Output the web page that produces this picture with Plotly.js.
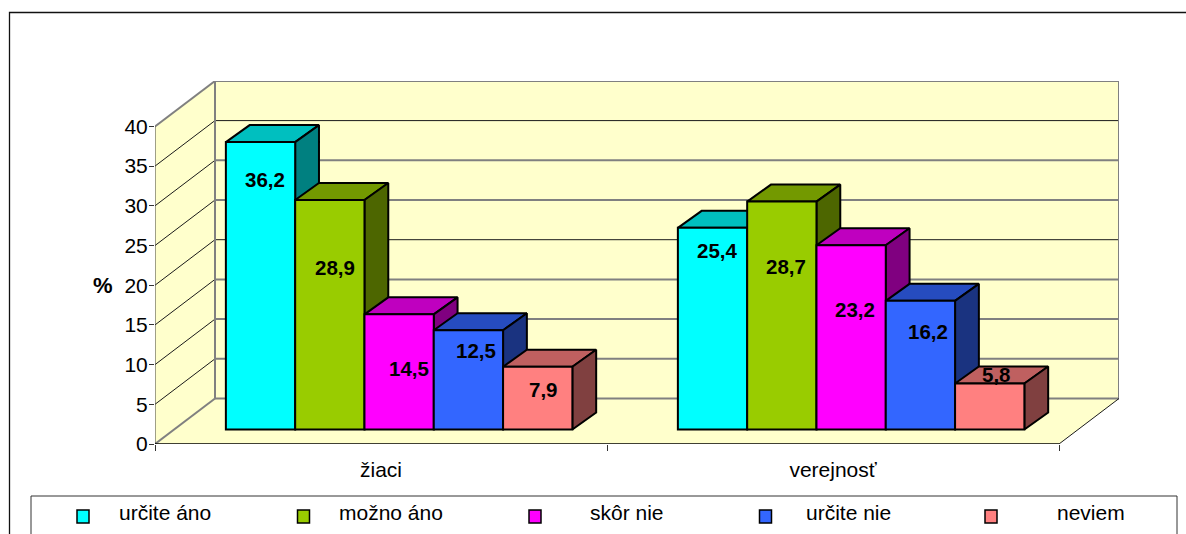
<!DOCTYPE html>
<html><head><meta charset="utf-8">
<script src="https://cdn.plot.ly/plotly-3.0.1.min.js"></script>
<style>html,body{margin:0;padding:0;background:#fff;overflow:hidden}#c{width:1186px;height:534px}</style>
</head><body><div id="c"></div>
<script>
// ---- data ----
const groups = ['žiaci', 'verejnosť'];
const seriesNames = ['určite áno', 'možno áno', 'skôr nie', 'určite nie', 'neviem'];
const urciteAno = [36.2, 25.4];
const moznoAno = [28.9, 28.7];
const skorNie = [14.5, 23.2];
const urciteNie = [12.5, 16.2];
const neviem = [7.9, 5.8];
const yTicks = [0, 5, 10, 15, 20, 25, 30, 35, 40];
// ---- styles ----
const frontColors = ['#00FFFF', '#99CC00', '#FF00FF', '#3366FF', '#FF8080'];
const topColors = ['#00BFBF', '#739900', '#BF00BF', '#264CBF', '#BF6060'];
const sideColors = ['#008080', '#4D6600', '#800080', '#1A3380', '#804040'];
const allValues = [urciteAno, moznoAno, skorNie, urciteNie, neviem];
// ---- layout in pixels ----
const L = 155, R = 1119, T = 81, B = 444;
const unitX = 452, unitY = 7.94;           // px per axis unit
const depthX = 60, depthY = 45.5;          // floor depth in px
const xMax = (R - L) / unitX, yMax = (B - T) / unitY;
const barW = 69.3 / unitX;
const d0 = 14.5 / depthY;                  // bar front depth fraction
const barDepthX = 23.8 / unitX, barDepthY = 17 / unitY; // bar depth in axis units
const dx = d => d * depthX / unitX, dy = d => d * depthY / unitY;
const fx = p => (p - L) / (R - L), fy = p => (B - p) / (B - T);
const WALL = '#FFFFCC', GRAY = '#808080', DARK = '#1a1a1a';

const traces = [];
function poly(xs, ys, fill, lc, lw) {
  traces.push({type:'scatter', mode:'lines', x:xs, y:ys, fill: fill ? 'toself' : 'none',
    fillcolor: fill || undefined, line:{color:lc, width:lw}, hoverinfo:'skip',
    showlegend:false, cliponaxis:false});
}
// walls and floor
poly([0, dx(1), dx(1), 0, 0], [0, dy(1), 40 + dy(1), 40, 0], WALL, WALL, 0);
poly([0, 2, 2 + dx(1), dx(1), 0], [0, 0, dy(1), dy(1), 0], WALL, WALL, 0);
poly([dx(1), xMax, xMax, dx(1), dx(1)], [dy(1), dy(1), yMax, yMax, dy(1)], WALL, GRAY, 0);
// gridlines: back wall and side wall
yTicks.forEach(v => {
  const thin = v === 35 || v === 20;
  poly([dx(1), xMax], [v + dy(1), v + dy(1)], null, thin ? DARK : GRAY, thin ? 1 : 2);
  const edge = v === 0;
  if (v < 40) poly([0, dx(1)], [v, v + dy(1)], null, edge ? GRAY : DARK, edge ? 2 : 1);
});
poly([0, dx(1)], [40, yMax], null, GRAY, 2);
poly([dx(1), dx(1), xMax, xMax], [dy(1), yMax, yMax, dy(1)], null, GRAY, 2);
poly([0, 0], [0, 40], null, '#404040', 1);
poly([2, 2 + dx(1)], [0, dy(1)], null, DARK, 1);
poly([0, 2], [0, 0], null, '#000', 1.5);

// top and side faces, painted left to right
const base = dy(d0), shift = dx(d0) - 1 / unitX;
groups.forEach((g, gi) => {
  allValues.forEach((vals, si) => {
    const x0 = gi + 0.5 + shift + (si - 2.5) * barW, x1 = x0 + barW;
    const top = base + vals[gi], ddx = barDepthX, ddy = barDepthY;
    poly([x0, x1, x1 + ddx, x0 + ddx, x0], [top, top, top + ddy, top + ddy, top], topColors[si], '#000', 2);
    poly([x1, x1 + ddx, x1 + ddx, x1, x1], [top, top + ddy, base + ddy, base, top], sideColors[si], '#000', 2);
  });
});
// front faces: real bars on an overlay so they sit above the painted faces
allValues.forEach((vals, si) => {
  traces.push({type:'bar', name:seriesNames[si], x:groups.map((g, i) => i + 0.5 + shift), y:vals,
    base:base, width:barW, offset:(si - 2.5) * barW, xaxis:'x2', yaxis:'y2',
    marker:{color:frontColors[si], line:{color:'#000', width:2}}, showlegend:false, hoverinfo:'skip'});
});

// value labels, hand placed in the reference: drop below bar top and sideways nudge
const labelDrop = [[37, 67, 54, 20, 23], [23, 65, 64, 31, -9]];
const labelNudge = [[4, 5, 10, 8, 6], [4, 4, 4, 8, 7]];
const annotations = [];
groups.forEach((g, gi) => allValues.forEach((vals, si) => {
  annotations.push({xref:'x', yref:'y', x:gi + 0.5 + shift + (si - 2) * barW, y:base + vals[gi],
    xanchor:'center', yanchor:'middle', showarrow:false,
    text:vals[gi].toFixed(1).replace('.', ','), yshift:-labelDrop[gi][si], xshift:labelNudge[gi][si],
    font:{family:'Liberation Sans', size:20.5, color:'#000', weight:700}});
}));
annotations.push({xref:'paper', yref:'paper', x:fx(103), y:fy(285), xanchor:'center', yanchor:'middle',
  showarrow:false, text:'%', font:{family:'Liberation Sans', size:22, color:'#000', weight:700}});

// legend, laid out as in the reference
const legendSwatchX = [83, 303.5, 535, 765.5, 991];
const legendTextX = [164.5, 391, 626.5, 848.5, 1091];
const shapes = [
  {type:'rect', xref:'paper', yref:'paper', x0:fx(9.5), x1:fx(1300), y0:fy(12.5), y1:fy(700), line:{color:'#111', width:1.3}, fillcolor:'rgba(0,0,0,0)', layer:'below'},
  {type:'rect', xref:'paper', yref:'paper', x0:fx(31), x1:fx(1177), y0:fy(496), y1:fy(700), line:{color:'#333', width:1}, fillcolor:'#fff'}
];
seriesNames.forEach((n, i) => {
  shapes.push({type:'rect', xref:'paper', yref:'paper', x0:fx(legendSwatchX[i] - 6), x1:fx(legendSwatchX[i] + 6),
    y0:fy(510), y1:fy(523), fillcolor:frontColors[i], line:{color:'#000', width:1.5}});
  annotations.push({xref:'paper', yref:'paper', x:fx(legendTextX[i]), y:fy(512.5), xanchor:'center', yanchor:'middle',
    showarrow:false, text:n, font:{family:'Liberation Sans', size:21, color:'#000'}});
});

const layout = {
  width:1186, height:534, margin:{l:L, r:1186 - R, t:T, b:534 - B},
  paper_bgcolor:'#fff', plot_bgcolor:'rgba(0,0,0,0)', showlegend:false, dragmode:false,
  font:{family:'Liberation Sans', size:21, color:'#000'},
  xaxis:{range:[0, xMax], showgrid:false, zeroline:false, showline:false,
    tickmode:'array', tickvals:[0.5, 1.5], ticktext:groups, ticks:'', ticklabelstandoff:11,
    minor:{tickmode:'array', tickvals:[0, 1, 2], ticks:'outside', ticklen:6, tickcolor:'#333', tickwidth:1, showgrid:false}},
  yaxis:{range:[0, yMax], showgrid:false, zeroline:false, showline:false, ticklabelstandoff:-3,
    tickmode:'array', tickvals:yTicks, ticks:'outside', ticklen:5, tickcolor:'#333', tickwidth:1},
  xaxis2:{range:[0, xMax], overlaying:'x', visible:false, fixedrange:true},
  yaxis2:{range:[0, yMax], overlaying:'y', visible:false, fixedrange:true},
  barmode:'overlay', annotations, shapes
};
Plotly.newPlot('c', traces, layout, {staticPlot:true, displayModeBar:false});
</script></body></html>
